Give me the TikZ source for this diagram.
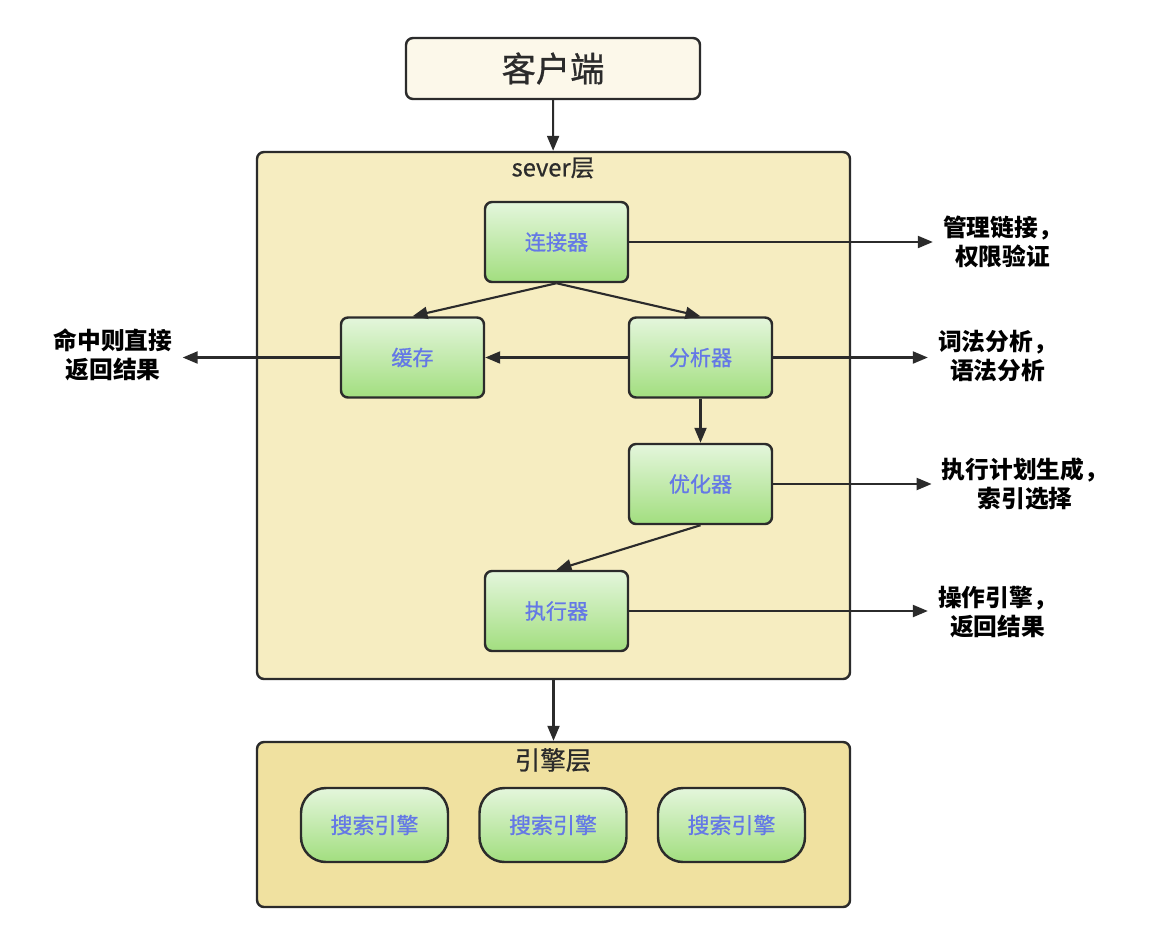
\documentclass[tikz,border=0pt]{standalone}
\usepackage{fontspec}
\setmainfont{Noto Sans CJK SC}
\newfontfamily\medfont[FakeBold=0.8]{Noto Sans CJK SC}
\usetikzlibrary{arrows.meta}
\definecolor{lineclr}{HTML}{2B2B2B}
\definecolor{txtblue}{HTML}{6478E6}
\definecolor{greentop}{HTML}{E4F6DC}
\definecolor{greenbot}{HTML}{A2DE7F}
\definecolor{severfill}{HTML}{F6EDC1}
\definecolor{enginefill}{HTML}{F0E1A0}
\definecolor{clientfill}{HTML}{FCF8EA}
\begin{document}
\begin{tikzpicture}[
    every node/.style={font=\medfont\fontsize{12}{14}\selectfont},
    layer/.style={draw=lineclr, line width=1.4pt, rectangle, rounded corners=4pt},
    module/.style={draw=lineclr, line width=1.4pt, rectangle, rounded corners=4pt, minimum width=2.86cm, minimum height=1.6cm, top color=greentop, bottom color=greenbot, text=txtblue},
    engine/.style={draw=lineclr, line width=1.4pt, rectangle, rounded corners=0.5cm, minimum width=2.94cm, minimum height=1.48cm, top color=greentop, bottom color=greenbot, text=txtblue, font=\medfont\fontsize{12.5}{14}\selectfont},
    note/.style={align=center, font=\bfseries\fontsize{13.5}{16.5}\selectfont, text=black, inner sep=0.2cm},
    flow/.style={draw=lineclr, line width=1.2pt, -{Triangle[length=0.3cm, width=0.24cm]}}
]
    \useasboundingbox (0, 0) rectangle (23.24, -18.9);

    \node[layer, fill=clientfill, minimum width=5.88cm, minimum height=1.22cm, font=\medfont\fontsize{19.5}{22}\selectfont, text=lineclr] (client) at (11.06, -1.37) {客户端};
    \node[layer, fill=severfill, minimum width=11.86cm, minimum height=10.54cm] (sever) at (11.07, -8.31) {};
    \node[font=\medfont\fontsize{13.5}{16}\selectfont, text=lineclr] (severlbl) at (11.06, -3.36) {sever层};
    \node[layer, fill=enginefill, minimum width=11.86cm, minimum height=3.3cm] (engine) at (11.07, -16.49) {};
    \node[font=\medfont\fontsize{14.5}{16}\selectfont, text=lineclr] (enginelbl) at (11.06, -15.2) {引擎层};

    \node[module] (conn) at (11.13, -4.84) {连接器};
    \node[module] (cache) at (8.25, -7.15) {缓存};
    \node[module] (parser) at (14.01, -7.15) {分析器};
    \node[module] (optim) at (14.01, -9.68) {优化器};
    \node[module] (exec) at (11.13, -12.22) {执行器};

    \node[engine] (eng1) at (7.49, -16.5) {搜索引擎};
    \node[engine] (eng2) at (11.06, -16.5) {搜索引擎};
    \node[engine] (eng3) at (14.63, -16.5) {搜索引擎};

    \node[note] (connnote) at (20.05, -4.84) {管理链接，\\权限验证};
    \node[note] (parsenote) at (19.95, -7.13) {词法分析，\\语法分析};
    \node[note] (optnote) at (20.5, -9.68) {执行计划生成，\\索引选择};
    \node[note] (execnote) at (19.95, -12.24) {操作引擎，\\返回结果};
    \node[note] (cachenote) at (2.26, -7.1) {命中则直接\\返回结果};

    \draw[flow] (client) -- (sever);
    \draw[flow] (sever) -- (engine);
    \draw[flow] (conn.south) -- (cache.north);
    \draw[flow] (conn.south) -- (parser.north);
    \draw[flow] (parser) -- (cache);
    \draw[flow] (parser) -- (optim);
    \draw[flow] (optim.south) -- (exec.north);
    \draw[flow] (cache) -- (cache.west -| cachenote.east);
    \draw[flow] (conn) -- (conn -| connnote.west);
    \draw[flow] (parser) -- (parser -| parsenote.west);
    \draw[flow] (optim) -- (optim -| optnote.west);
    \draw[flow] (exec) -- (exec -| execnote.west);
\end{tikzpicture}
\end{document}
